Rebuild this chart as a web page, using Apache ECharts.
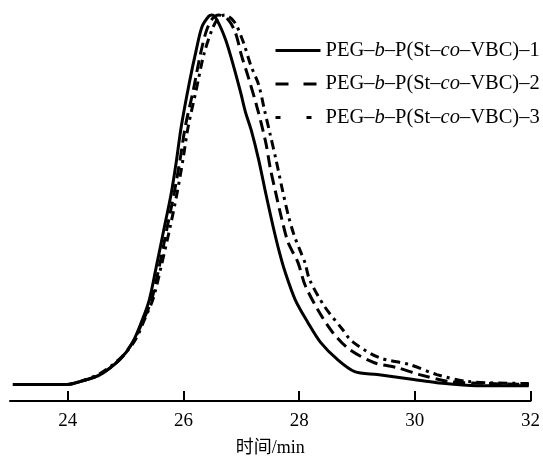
<!DOCTYPE html>
<html>
<head>
<meta charset="utf-8">
<script src="https://cdn.jsdelivr.net/npm/echarts@6/dist/echarts.min.js"></script>
<style>html,body{margin:0;padding:0;background:#fff}#c{width:543px;height:462px}</style>
</head>
<body>
<div id="c"></div>
<script>
// ---- data ----
const seriesNames = ['PEG-b-P(St-co-VBC)-1', 'PEG-b-P(St-co-VBC)-2', 'PEG-b-P(St-co-VBC)-3'];
const xTicks = [24, 26, 28, 30, 32];
const xAxisName = '时间/min';

const t1 = [23.05, 23.53, 23.97, 24.21, 24.56, 24.90, 25.12, 25.29, 25.41, 25.53, 25.67, 25.79, 25.88, 25.96, 26.10, 26.22, 26.32, 26.44, 26.49, 26.58, 26.73, 26.87, 26.99, 27.07, 27.17, 27.30, 27.42, 27.55, 27.66, 27.76, 27.93, 28.15, 28.37, 28.66, 28.96, 29.35, 29.98, 30.38, 31.06, 31.97];
const y1 = [0, 0, 0, 0.008, 0.027, 0.068, 0.114, 0.176, 0.23, 0.319, 0.427, 0.519, 0.608, 0.697, 0.816, 0.905, 0.968, 0.997, 1.0, 0.986, 0.932, 0.859, 0.789, 0.738, 0.689, 0.608, 0.519, 0.427, 0.357, 0.303, 0.23, 0.168, 0.114, 0.068, 0.035, 0.027, 0.0135, 0.005, -0.003, -0.003];

const t2 = [23.05, 23.97, 24.21, 24.56, 24.90, 25.12, 25.31, 25.45, 25.58, 25.72, 25.84, 25.94, 26.03, 26.17, 26.29, 26.40, 26.51, 26.61, 26.78, 26.90, 27.00, 27.12, 27.26, 27.35, 27.43, 27.50, 27.59, 27.69, 27.81, 27.98, 28.10, 28.32, 28.58, 28.87, 29.30, 29.69, 30.08, 30.60, 31.23, 31.97];
const y2 = [0, 0, 0.008, 0.027, 0.068, 0.114, 0.176, 0.23, 0.319, 0.427, 0.519, 0.608, 0.697, 0.797, 0.892, 0.959, 0.992, 1.0, 0.986, 0.951, 0.892, 0.832, 0.757, 0.703, 0.649, 0.586, 0.522, 0.454, 0.384, 0.330, 0.270, 0.203, 0.141, 0.095, 0.059, 0.046, 0.027, 0.008, 0.003, 0];

const t3 = [23.05, 23.97, 24.21, 24.56, 24.92, 25.16, 25.34, 25.48, 25.62, 25.77, 25.89, 25.99, 26.08, 26.22, 26.35, 26.49, 26.59, 26.71, 26.88, 27.04, 27.16, 27.30, 27.40, 27.50, 27.60, 27.71, 27.81, 27.91, 28.01, 28.10, 28.18, 28.44, 28.75, 28.92, 29.38, 29.91, 30.38, 30.92, 31.97];
const y3 = [0, 0, 0.008, 0.030, 0.073, 0.119, 0.181, 0.235, 0.324, 0.427, 0.519, 0.608, 0.697, 0.797, 0.892, 0.959, 0.989, 1.0, 0.981, 0.924, 0.865, 0.811, 0.743, 0.676, 0.608, 0.527, 0.459, 0.405, 0.365, 0.330, 0.284, 0.211, 0.149, 0.116, 0.073, 0.054, 0.027, 0.008, 0.003];

const zip = (a, b) => a.map((v, i) => [v, b[i]]);
const serif = '"Liberation Serif", "Times New Roman", "DejaVu Serif", serif';
const cjk = '"Liberation Serif", "Noto Sans CJK SC", serif';

const chart = echarts.init(document.getElementById('c'), null, {renderer: 'canvas'});

function legendFmt(name) {
  const m = name.match(/^PEG-(b)-P\(St-(co)-VBC\)-(\d)$/);
  if (!m) return name;
  return '{n|PEG–}{i|' + m[1] + '}{n|–P(St–}{i|' + m[2] + '}{n|–VBC)–' + m[3] + '}';
}

const lineStyles = [
  {color: '#000', width: 3, type: 'solid'},
  {color: '#000', width: 3, type: [12, 6]},
  {color: '#000', width: 3, type: [9, 5, 3, 5]}
];
const legendLineStyles = [
  {color: '#000', width: 3, type: 'solid'},
  {color: '#000', width: 3, type: [13, 15]},
  {color: '#000', width: 3, type: [5, 26]}
];

chart.setOption({
  animation: false,
  backgroundColor: '#fff',
  grid: {left: 10, right: 9, top: 1, bottom: 60, containLabel: false},
  xAxis: {
    type: 'value',
    min: 23, max: 32,
    name: xAxisName,
    nameLocation: 'middle',
    nameGap: 38,
    nameTextStyle: {fontFamily: cjk, fontSize: 18, color: '#000'},
    axisLine: {show: true, onZero: false, lineStyle: {color: '#000', width: 2}},
    axisTick: {show: true, inside: true, length: 10, lineStyle: {color: '#000', width: 2}, customValues: xTicks},
    axisLabel: {color: '#000', fontFamily: serif, fontSize: 19, margin: 11, customValues: xTicks},
    splitLine: {show: false}
  },
  yAxis: {
    type: 'value', min: -0.0445, max: 1.0378, show: false, splitLine: {show: false}
  },
  legend: {
    orient: 'vertical',
    left: 269,
    top: 35,
    itemWidth: 45,
    itemHeight: 20,
    itemGap: 12.5,
    data: seriesNames.map((n, i) => ({name: n, lineStyle: legendLineStyles[i], itemStyle: {opacity: 0}})),
    formatter: legendFmt,
    textStyle: {
      color: '#000',
      rich: {
        n: {fontFamily: serif, fontSize: 20.5, color: '#000'},
        i: {fontFamily: serif, fontSize: 20.5, fontStyle: 'italic', color: '#000'}
      }
    }
  },
  series: [zip(t1, y1), zip(t2, y2), zip(t3, y3)].map((d, i) => ({
    name: seriesNames[i],
    type: 'line',
    data: d,
    smooth: 0.3,
    showSymbol: false,
    symbol: 'none',
    lineStyle: lineStyles[i],
    itemStyle: {color: '#000'}
  }))
});
</script>
</body>
</html>
